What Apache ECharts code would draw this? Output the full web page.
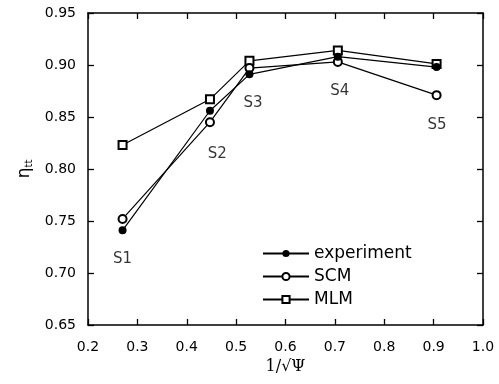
<!DOCTYPE html>
<html>
<head>
<meta charset="utf-8">
<script src="https://cdn.jsdelivr.net/npm/echarts@6/dist/echarts.min.js"></script>
<style>
  html, body { margin: 0; padding: 0; background: #fff; }
  #chart { width: 499px; height: 384px; }
</style>
</head>
<body>
<div id="chart"></div>
<script>
// --- data ---
const xValues = [0.27, 0.447, 0.527, 0.706, 0.906];
const experiment = [0.741, 0.856, 0.891, 0.908, 0.898];
const scm = [0.752, 0.845, 0.897, 0.903, 0.871];
const mlm = [0.823, 0.867, 0.904, 0.914, 0.901];

const stageNames = ['S1', 'S2', 'S3', 'S4', 'S5'];
const stageLabelX = [0.27, 0.462, 0.534, 0.71, 0.907];
const stageLabelY = [0.713, 0.814, 0.8635, 0.875, 0.842];

const font = 'DejaVu Sans';
const pairs = ys => xValues.map((x, i) => [x, ys[i]]);

const chart = echarts.init(document.getElementById('chart'));

const axisCommon = {
  axisLine: { show: true, onZero: false, lineStyle: { color: '#000', width: 1.5 } },
  axisTick: { show: true, inside: true, length: 6, lineStyle: { color: '#000', width: 1.3 } },
  splitLine: { show: false }
};

const option = {
  backgroundColor: '#fff',
  animation: false,
  grid: { left: 88, right: 16, top: 13, bottom: 59 },
  legend: {
    data: ['experiment', 'SCM', 'MLM'],
    orient: 'vertical',
    left: 257, top: 240,
    itemWidth: 46, itemHeight: 9, itemGap: 6,
    textStyle: { fontFamily: font, fontSize: 17, color: '#000' }
  },
  xAxis: [
    {
      type: 'value', min: 0.2, max: 1.0, interval: 0.1, position: 'bottom',
      ...axisCommon,
      axisLabel: { color: '#000', fontFamily: font, fontSize: 14, margin: 15,
        formatter: v => v.toFixed(1) },
      name: '1/√Ψ', nameLocation: 'middle', nameGap: 32,
      nameTextStyle: { fontFamily: 'DejaVu Serif', fontSize: 16, color: '#000' }
    },
    {
      type: 'value', min: 0.2, max: 1.0, interval: 0.1, position: 'top',
      ...axisCommon, axisLabel: { show: false }
    }
  ],
  yAxis: [
    {
      type: 'value', min: 0.65, max: 0.95, interval: 0.05, position: 'left',
      ...axisCommon,
      axisLabel: { color: '#000', fontFamily: font, fontSize: 14, margin: 12,
        formatter: v => v.toFixed(2) },
      name: 'η{sub|tt}', nameLocation: 'middle', nameGap: 54, nameRotate: 90,
      nameTextStyle: {
        fontFamily: font, fontSize: 17, color: '#000',
        rich: { sub: { fontFamily: font, fontSize: 10, color: '#000', verticalAlign: 'bottom', padding: [8, 0, 0, 0] } }
      }
    },
    {
      type: 'value', min: 0.65, max: 0.95, interval: 0.05, position: 'right',
      ...axisCommon, axisLabel: { show: false }
    }
  ],
  series: [
    {
      name: 'MLM', type: 'line', data: pairs(mlm),
      symbol: 'emptyRect', symbolSize: 8,
      lineStyle: { color: '#000', width: 1.2 },
      itemStyle: { color: '#000', borderWidth: 1.2 }
    },
    {
      name: 'SCM', type: 'line', data: pairs(scm),
      symbol: 'emptyCircle', symbolSize: 8,
      lineStyle: { color: '#000', width: 1.2 },
      itemStyle: { color: '#000', borderWidth: 1.2 }
    },
    {
      name: 'experiment', type: 'line', data: pairs(experiment),
      symbol: 'circle', symbolSize: 8,
      lineStyle: { color: '#000', width: 1.2 },
      itemStyle: { color: '#000' }
    },
    {
      name: 'stages', type: 'scatter', symbolSize: 0, silent: true,
      data: stageNames.map((n, i) => ({ name: n, value: [stageLabelX[i], stageLabelY[i]] })),
      label: { show: true, position: 'inside', formatter: '{b}',
        fontFamily: font, fontSize: 15, color: '#000' }
    }
  ]
};

chart.setOption(option);
</script>
</body>
</html>
